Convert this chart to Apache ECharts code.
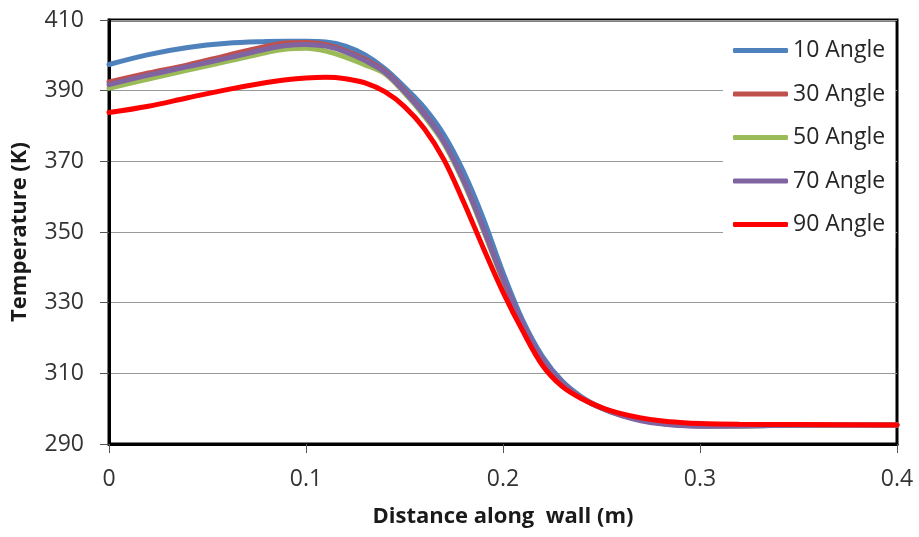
<!DOCTYPE html>
<html>
<head>
<meta charset="utf-8">
<script src="https://cdn.jsdelivr.net/npm/echarts@6/dist/echarts.min.js"></script>
<style>html,body{margin:0;padding:0;background:#fff;}#c{width:919px;height:537px;}</style>
</head>
<body>
<div id="c"></div>
<script>
var xs = [0, 0.02, 0.04, 0.06, 0.08, 0.09, 0.10, 0.11, 0.12, 0.13, 0.14, 0.15, 0.16, 0.17, 0.18, 0.19, 0.20, 0.21, 0.22, 0.23, 0.24, 0.25, 0.26, 0.27, 0.28, 0.29, 0.30, 0.32, 0.35, 0.40];
var seriesNames = ['10 Angle', '30 Angle', '50 Angle', '70 Angle', '90 Angle'];
var angle10 = [397.4, 400.2, 402.2, 403.4, 403.9, 404.0, 404.0, 403.8, 402.6, 400.1, 396.2, 391.0, 385.2, 377.5, 367.0, 353.8, 338.5, 325.0, 314.8, 307.8, 303.3, 300.3, 298.3, 296.9, 295.9, 295.3, 295.1, 295.1, 295.3, 295.4];
var angle30 = [392.5, 395.0, 397.3, 400.0, 402.6, 403.5, 403.6, 403.0, 401.3, 398.9, 395.5, 390.0, 383.5, 375.5, 364.5, 351.0, 336.5, 323.8, 313.8, 307.2, 303.0, 300.2, 298.2, 296.8, 295.9, 295.4, 295.2, 295.2, 295.3, 295.4];
var angle50 = [390.7, 393.3, 395.8, 398.3, 400.8, 401.8, 402.0, 401.2, 399.5, 397.3, 394.8, 389.3, 382.8, 375.0, 364.0, 350.5, 336.2, 323.6, 313.6, 307.1, 303.0, 300.2, 298.2, 296.8, 295.9, 295.4, 295.2, 295.2, 295.3, 295.4];
var angle70 = [391.7, 394.4, 396.8, 399.2, 401.8, 402.8, 403.1, 402.6, 401.0, 398.5, 395.2, 389.7, 383.3, 375.5, 364.5, 351.0, 336.7, 324.0, 314.0, 307.3, 303.0, 300.1, 298.0, 296.6, 295.7, 295.2, 295.0, 295.1, 295.3, 295.4];
var angle90 = [383.8, 385.6, 388.0, 390.3, 392.3, 393.1, 393.6, 393.8, 393.4, 392.2, 389.7, 385.5, 379.3, 370.5, 358.5, 345.5, 333.0, 322.0, 312.3, 306.3, 302.8, 300.3, 298.6, 297.4, 296.6, 296.1, 295.8, 295.6, 295.5, 295.4];
var xTicks = [0, 0.1, 0.2, 0.3, 0.4];
var yTicks = [290, 310, 330, 350, 370, 390, 410];

var colors = ['#4F81BD', '#C0504D', '#9BBB59', '#8064A2', '#FF0000'];
var allData = [angle10, angle30, angle50, angle70, angle90];

function pairs(vals) {
  return xs.map(function (x, i) { return [x, vals[i]]; });
}

var chart = echarts.init(document.getElementById('c'), null, {renderer: 'canvas'});
var font = 'Open Sans';
chart.setOption({
  animation: false,
  backgroundColor: '#fff',
  textStyle: {fontFamily: font},
  grid: {
    left: 109, right: 22, top: 20, bottom: 93,
    show: true, borderColor: '#000', borderWidth: 3, backgroundColor: '#fff'
  },
  legend: {
    orient: 'vertical',
    left: 723, top: 22,
    padding: [17, 10, 12, 10],
    backgroundColor: '#fff',
    icon: 'roundRect',
    itemWidth: 55, itemHeight: 5,
    itemGap: 20.5,
    textStyle: {fontFamily: font, fontSize: 23, color: '#262626', lineHeight: 23},
    data: seriesNames
  },
  xAxis: {
    type: 'value', min: xTicks[0], max: xTicks[xTicks.length - 1], interval: 0.1,
    name: 'Distance along  wall (m)', nameLocation: 'middle', nameGap: 62,
    nameTextStyle: {fontFamily: font, fontSize: 22, fontWeight: 'bold', color: '#1a1a1a'},
    axisLine: {show: true, lineStyle: {color: '#000', width: 3}},
    axisTick: {show: true, inside: false, length: 9, lineStyle: {color: '#555', width: 1}},
    axisLabel: {fontFamily: font, fontSize: 23, color: '#333', margin: 24,
      formatter: function (v) { return String(Math.round(v * 10) / 10); }},
    splitLine: {show: false}
  },
  yAxis: {
    type: 'value', min: yTicks[0], max: yTicks[yTicks.length - 1], interval: 20,
    name: 'Temperature (K)', nameLocation: 'middle', nameGap: 78, nameRotate: 90,
    nameTextStyle: {fontFamily: font, fontSize: 22, fontWeight: 'bold', color: '#1a1a1a'},
    axisLine: {show: true, lineStyle: {color: '#000', width: 3}},
    axisTick: {show: true, inside: false, length: 9, lineStyle: {color: '#555', width: 1}},
    axisLabel: {fontFamily: font, fontSize: 23, color: '#333', margin: 25},
    splitLine: {show: true, lineStyle: {color: '#999', width: 1}}
  },
  series: seriesNames.map(function (n, i) {
    return {
      name: n, type: 'line', smooth: 0.35, showSymbol: false, symbol: 'none',
      data: pairs(allData[i]),
      lineStyle: {color: colors[i], width: 5, cap: 'round'},
      itemStyle: {color: colors[i]},
      z: 2 + i
    };
  })
});
</script>
</body>
</html>
